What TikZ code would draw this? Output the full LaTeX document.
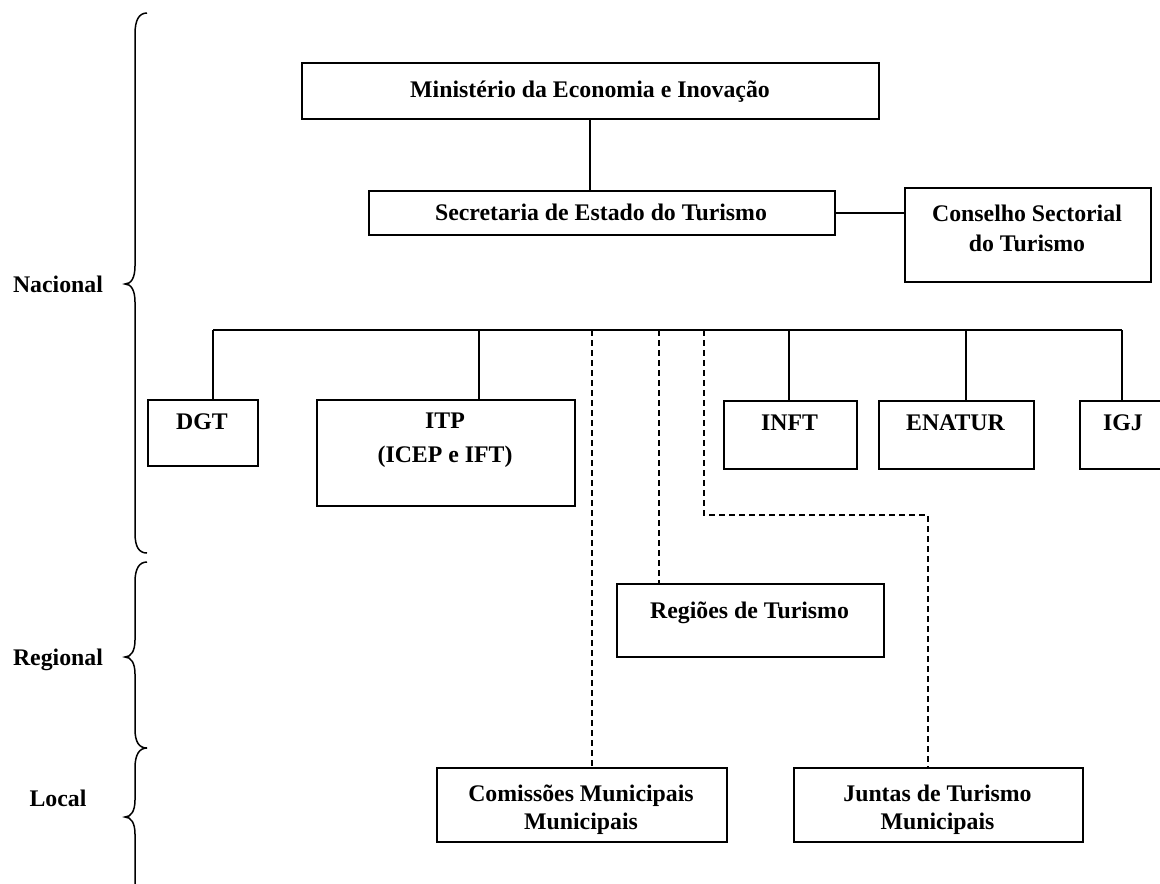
\documentclass[tikz,border=0pt]{standalone}
\usepackage{fontspec}
\setmainfont{Liberation Serif}
\begin{document}
\begin{tikzpicture}[x=1pt,y=-1pt,
  box/.style={draw, line width=1.6pt, inner sep=0pt, anchor=north west},
  txt/.style={font=\bfseries\fontsize{23.8}{28}\selectfont, inner sep=0pt, anchor=north, align=center},
  lbl/.style={font=\bfseries\fontsize{23.8}{28}\selectfont, inner sep=0pt, anchor=base},
  conn/.style={line width=1.4pt},
  dsh/.style={line width=1.4pt, dash pattern=on 6pt off 4pt},
  brace/.style={line width=1.5pt}]
\useasboundingbox (0,0) rectangle (1160,884);
% boxes
\node[box, minimum width=577pt, minimum height=56pt] (min) at (301,62) {};
\node[box, minimum width=466pt, minimum height=44pt] (sec) at (368,190) {};
\node[box, minimum width=246pt, minimum height=94pt] (con) at (904,187) {};
\node[box, minimum width=110pt, minimum height=66pt] (dgt) at (147,399) {};
\node[box, minimum width=258pt, minimum height=106pt] (itp) at (316,399) {};
\node[box, minimum width=133pt, minimum height=68pt] (inft) at (723,400) {};
\node[box, minimum width=155pt, minimum height=68pt] (ena) at (878,400) {};
\node[box, minimum width=88pt, minimum height=68pt] (igj) at (1079,400) {};
\node[box, minimum width=267pt, minimum height=73pt] (reg) at (616,583) {};
\node[box, minimum width=290pt, minimum height=74pt] (com) at (436,767) {};
\node[box, minimum width=289pt, minimum height=74pt] (jun) at (793,767) {};
% texts
\node[txt] (min-t) at (590,77.4) {\strut Ministério da Economia e Inovação};
\node[txt] (sec-t) at (601,200.4) {\strut Secretaria de Estado do Turismo};
\node[txt] (con-t) at (1027,201.4) {\strut Conselho Sectorial\\[2pt]\strut do Turismo};
\node[txt] (dgt-t) at (202,409.4) {\strut DGT};
\node[txt] (itp-t) at (445,408.4) {\strut ITP\\[6pt]\strut (ICEP e IFT)};
\node[txt] (inft-t) at (789.5,410.4) {\strut INFT};
\node[txt] (ena-t) at (955.5,410.4) {\strut ENATUR};
\node[txt] (igj-t) at (1123,410.4) {\strut IGJ};
\node[txt] (reg-t) at (749.5,598.4) {\strut Regiões de Turismo};
\node[txt] (com-t) at (581,781.4) {\strut Comissões Municipais\\\strut Municipais};
\node[txt] (jun-t) at (937.5,781.4) {\strut Juntas de Turismo\\\strut Municipais};
% level labels
\node[lbl] (nac) at (58,292) {Nacional};
\node[lbl] (rgl) at (58,665) {Regional};
\node[lbl] (loc) at (58,806) {Local};
% solid connectors
\draw[conn] (min.south -| 590,0) -- (590,190);
\draw[conn] (sec.east) -- (sec.east -| con.west);
\coordinate (busL) at (213,330);
\coordinate (busR) at (1122,330);
\coordinate (itpB) at (479,330);
\coordinate (inftB) at (789,330);
\coordinate (enaB) at (966,330);
\draw[conn] (busL) -- (busR);
\draw[conn] (busL) -- (busL |- dgt.north);
\draw[conn] (itpB) -- (itpB |- itp.north);
\draw[conn] (inftB) -- (inftB |- inft.north);
\draw[conn] (enaB) -- (enaB |- ena.north);
\draw[conn] (busR) -- (busR |- igj.north);
% dashed connectors
\coordinate (d1) at (592,330);
\coordinate (d2) at (659,330);
\coordinate (d3) at (704,330);
\coordinate (d3b) at (928,515);
\draw[dsh] (d1) -- (d1 |- com.north);
\draw[dsh] (d2) -- (d2 |- reg.north);
\draw[dsh] (d3) |- (d3b) -- (d3b |- jun.north);
% braces
\draw[brace] (147,13) .. controls (139,13) and (135,20) .. (135,34) -- (135,266) .. controls (135,278) and (131,284) .. (125,284) .. controls (131,284) and (135,290) .. (135,302) -- (135,533) .. controls (135,547) and (139,553) .. (147,553);
\draw[brace] (147,562) .. controls (139,562) and (135,569) .. (135,582) -- (135,640) .. controls (135,651) and (131,657) .. (125,657) .. controls (131,657) and (135,663) .. (135,674) -- (135,729) .. controls (135,742) and (139,748) .. (147,748);
\draw[brace] (147,748) .. controls (139,748) and (135,755) .. (135,768) -- (135,800) .. controls (135,811) and (131,817) .. (125,817) .. controls (131,817) and (135,823) .. (135,834) -- (135,880) .. controls (135,890) and (139,896) .. (147,896);
\end{tikzpicture}
\end{document}
